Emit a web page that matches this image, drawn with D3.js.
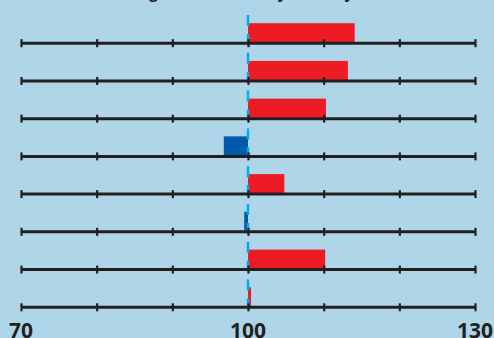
<!DOCTYPE html>
<html>
<head>
<meta charset="utf-8">
<script src="https://cdn.jsdelivr.net/npm/d3@7"></script>
<style>
html,body{margin:0;padding:0;background:#afd6e8;overflow:hidden;}
svg{display:block;}
</style>
</head>
<body>
<svg id="chart" width="494" height="338"></svg>
<script>
const titleText = "Housing costs in 2015 by country";
const categories = ["R1","R2","R3","R4","R5","R6","R7","R8"];
const values = [114.1, 113.2, 110.3, 96.8, 104.8, 99.5, 110.2, 100.4];
const tickValues = [70, 80, 90, 100, 110, 120, 130];
const tickLabels = [70, 100, 130];
const baseline = 100;

const W = 494, H = 338;
const svg = d3.select("#chart");
svg.append("rect").attr("width", W).attr("height", H).attr("fill", "#afd6e8");

const x = d3.scaleLinear().domain([70, 130]).range([21, 475]);
const y = d3.scalePoint().domain(categories).range([43.2, 307.3]);
const barH = 20;

// title (mostly clipped at top)
svg.append("text")
  .attr("x", 93).attr("y", -2)
  .attr("font-family", "Open Sans")
  .attr("font-weight", "bold")
  .attr("font-size", 16)
  .attr("fill", "#231f20")
  .text(titleText);

// bars
svg.selectAll("rect.bar").data(values).join("rect")
  .attr("class", "bar")
  .attr("x", d => x(Math.min(baseline, d)))
  .attr("width", d => Math.abs(x(d) - x(baseline)))
  .attr("y", (d, i) => y(categories[i]) - barH)
  .attr("height", barH)
  .attr("fill", d => d >= baseline ? "#ed1c24" : "#0059a9");

// dashed reference line at 100
svg.append("line")
  .attr("x1", x(baseline)).attr("x2", x(baseline))
  .attr("y1", 15).attr("y2", 314)
  .attr("stroke", "#00aeef")
  .attr("stroke-width", 2.5)
  .attr("stroke-dasharray", "11,7.9");

// row axes
categories.forEach(c => {
  const g = svg.append("g").attr("transform", `translate(0,${y(c)})`);
  const ax = d3.axisBottom(x).tickValues(tickValues).tickSize(4).tickSizeOuter(0).tickFormat("");
  g.call(ax);
  g.select(".domain").remove();
  g.selectAll(".tick line")
    .attr("y1", -4).attr("y2", 4)
    .attr("stroke", "#231f20").attr("stroke-width", 2.2);
  g.insert("line", ":first-child")
    .attr("x1", x(70)).attr("x2", x(130))
    .attr("stroke", "#231f20").attr("stroke-width", 3);
});

// bottom labels
svg.selectAll("text.lab").data(tickLabels).join("text")
  .attr("class", "lab")
  .attr("x", d => x(d))
  .attr("y", 338)
  .attr("text-anchor", "middle")
  .attr("font-family", "Open Sans")
  .attr("font-weight", "bold")
  .attr("font-size", 21)
  .attr("fill", "#231f20")
  .text(d => d);
</script>
</body>
</html>
